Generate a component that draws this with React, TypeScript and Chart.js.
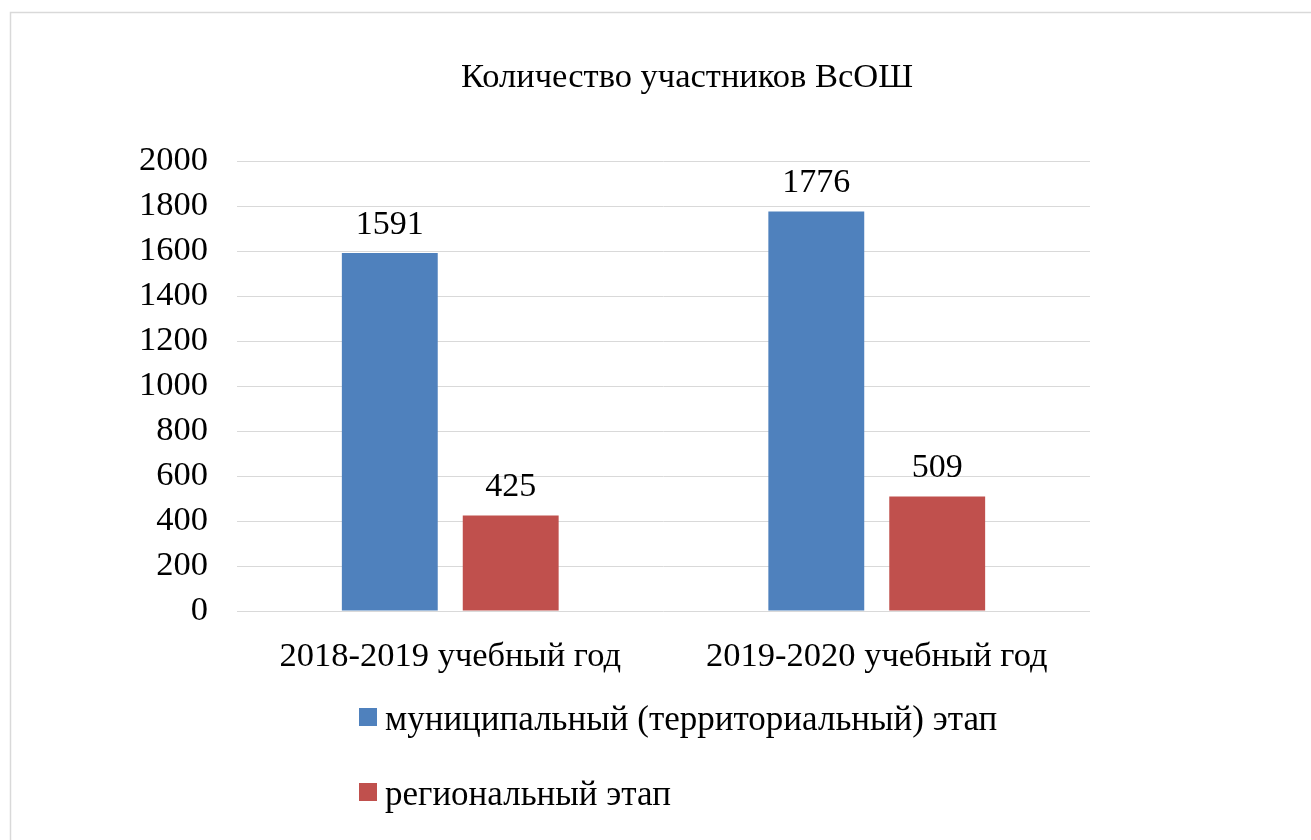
import React, { useEffect, useRef } from "react";
import { Chart, registerables } from "chart.js";

Chart.register(...registerables);

const categories = ["2018-2019 учебный год", "2019-2020 учебный год"];
const seriesNames = ["муниципальный (территориальный) этап", "региональный этап"];
const municipalValues = [1591, 1776];
const regionalValues = [425, 509];
const seriesColors = ["#4F81BD", "#C0504D"];
const titleText = "Количество участников ВсОШ";

const FONT = "'Liberation Serif', 'Times New Roman', serif";

const framePlugin = {
  id: "frame",
  beforeDraw(chart: any) {
    const ctx = chart.ctx;
    ctx.save();
    ctx.fillStyle = "#ffffff";
    ctx.fillRect(0, 0, chart.width, chart.height);
    ctx.strokeStyle = "#d9d9d9";
    ctx.lineWidth = 1.5;
    ctx.strokeRect(10.5, 12.5, chart.width + 20, chart.height + 20);
    ctx.restore();
  },
};

const titlePlugin = {
  id: "centeredTitle",
  afterDraw(chart: any) {
    const ctx = chart.ctx;
    ctx.save();
    ctx.font = `34.5px ${FONT}`;
    ctx.fillStyle = "#000000";
    ctx.textAlign = "center";
    ctx.textBaseline = "alphabetic";
    ctx.fillText(titleText, 687, 87);
    ctx.restore();
  },
};

const valueLabelPlugin = {
  id: "valueLabels",
  afterDatasetsDraw(chart: any) {
    const ctx = chart.ctx;
    ctx.save();
    ctx.font = `34px ${FONT}`;
    ctx.fillStyle = "#000000";
    ctx.textAlign = "center";
    ctx.textBaseline = "alphabetic";
    chart.data.datasets.forEach((ds: any, di: number) => {
      const meta = chart.getDatasetMeta(di);
      meta.data.forEach((bar: any, i: number) => {
        ctx.fillText(String(ds.data[i]), bar.x, bar.y - 19);
      });
    });
    ctx.restore();
  },
};

const legendPlugin = {
  id: "verticalLegend",
  afterDraw(chart: any) {
    const ctx = chart.ctx;
    ctx.save();
    ctx.font = `35px ${FONT}`;
    ctx.textAlign = "left";
    ctx.textBaseline = "alphabetic";
    const baseX = 359;
    const rows = [708, 783];
    chart.data.datasets.forEach((ds: any, i: number) => {
      const y = rows[i];
      ctx.fillStyle = ds.backgroundColor;
      ctx.fillRect(baseX, y, 18, 18);
      ctx.fillStyle = "#000000";
      ctx.fillText(ds.label, baseX + 26, y + 22);
    });
    ctx.restore();
  },
};

export default function App() {
  const ref = useRef<HTMLCanvasElement | null>(null);
  useEffect(() => {
    if (!ref.current) return;
    const chart = new Chart(ref.current, {
      type: "bar",
      data: {
        labels: categories,
        datasets: [
          {
            label: seriesNames[0],
            data: municipalValues,
            backgroundColor: seriesColors[0],
            categoryPercentage: 0.567,
            barPercentage: 0.793,
          },
          {
            label: seriesNames[1],
            data: regionalValues,
            backgroundColor: seriesColors[1],
            categoryPercentage: 0.567,
            barPercentage: 0.793,
          },
        ],
      },
      options: {
        responsive: false,
        animation: false,
        layout: { padding: { left: 0, right: 221, top: 161, bottom: 0 } },
        plugins: {
          legend: { display: false },
          tooltip: { enabled: false },
          title: { display: false },
        },
        scales: {
          x: {
            grid: { display: false, drawTicks: false },
            border: { display: false },
            ticks: {
              color: "#000000",
              font: { family: FONT, size: 34.5 },
              padding: 25,
              maxRotation: 0,
              autoSkip: false,
            },
            afterFit(scale: any) {
              scale.height = 229;
            },
          },
          y: {
            min: 0,
            max: 2000,
            grid: { color: "#d9d9d9", lineWidth: 1, drawTicks: false },
            border: { display: false },
            ticks: {
              stepSize: 200,
              color: "#000000",
              font: { family: FONT, size: 34.5 },
              padding: 29,
              callback: (v: any) => String(v),
            },
            afterFit(scale: any) {
              scale.width = 237;
            },
          },
        },
      },
      plugins: [framePlugin, titlePlugin, valueLabelPlugin, legendPlugin],
    });
    return () => chart.destroy();
  }, []);
  return (
    <canvas
      ref={ref}
      width={1311}
      height={840}
      style={{ position: "absolute", left: 0, top: 0, display: "block" }}
    />
  );
}
